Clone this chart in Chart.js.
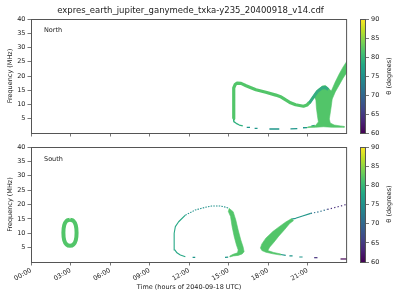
<!DOCTYPE html>
<html>
<head>
<meta charset="utf-8">
<script src="https://cdn.jsdelivr.net/npm/chart.js@4"></script>
<style>
  body { margin: 0; background: #fff; }
  #wrap { position: relative; width: 400px; height: 300px; font-family: 'DejaVu Sans', sans-serif; color: #222; }
  canvas { position: absolute; }
  .txt { position: absolute; white-space: nowrap; }
  .cbl { position: absolute; white-space: nowrap; font-size: 6.5px; transform: translate(-50%, -50%) rotate(-90deg); }
</style>
</head>
<body>
<div id="wrap">
  <canvas id="north" width="352" height="140" style="left:0;top:0"></canvas>
  <canvas id="south" width="352" height="160" style="left:0;top:140px"></canvas>
  <canvas id="cbN" width="45" height="140" style="left:355px;top:0"></canvas>
  <canvas id="cbS" width="45" height="160" style="left:355px;top:140px"></canvas>
  <div class="txt" style="left:31px;width:319px;top:5px;text-align:center;font-size:8.5px">expres_earth_jupiter_ganymede_txka-y235_20400918_v14.cdf</div>
  <div class="txt" style="left:44px;top:26px;font-size:6.5px">North</div>
  <div class="txt" style="left:44px;top:155px;font-size:6.5px">South</div>
  <div class="cbl" style="left:389px;top:76px">θ (degrees)</div>
  <div class="cbl" style="left:389px;top:204px">θ (degrees)</div>
</div>
<script>
// tick labels
const xTickLabels = ['00:00', '03:00', '06:00', '09:00', '12:00', '15:00', '18:00', '21:00'];
const yTickLabels = ['', '5', '10', '15', '20', '25', '30', '35', '40'];
const thetaTicks = [60, 65, 70, 75, 80, 85, 90];

// North hemisphere emission, [hour, MHz]
const northBand = [[15.38,5.0],[15.38,9.0],[15.39,13.0],[15.41,15.8],[15.50,17.0],[15.65,17.5],[15.95,17.4],[16.33,16.6],[16.70,15.9],[17.08,15.2],[17.83,14.3],[18.59,13.3],[19.00,12.6],[19.34,11.6],[19.70,10.6],[20.09,9.9],[20.69,9.4],[20.95,9.8],[21.14,10.8]];
const northBottom = [[15.37,5.0],[15.40,4.0],[15.58,3.4],[15.82,2.8],[16.08,2.5]];
const northDashes = [[16.38,2.0],[16.63,1.95],null,[16.98,1.65],[17.20,1.65],null,[18.10,1.4],[18.85,1.4],null,[19.70,1.45],[20.22,1.5],null,[20.65,1.85],[20.97,1.9],null,[21.29,2.4],[21.54,2.7]];
const northFan = [[21.14,10.5],[21.44,13.0],[21.75,15.1],[22.12,16.5],[22.35,16.7],[22.57,15.8],[22.80,14.7],[23.10,17.9],[23.40,20.7],[23.70,23.2],[24.0,25.3],[24.0,21.4],[23.70,19.3],[23.48,17.5],[23.10,14.4],[22.87,11.9],[22.80,9.5],[22.72,7.0],[22.65,4.9],[22.72,3.5],[23.02,2.8],[23.48,2.5],[23.78,2.3],[23.78,2.0],[22.87,2.0],[22.20,2.2],[21.60,2.0],[20.99,1.9],[20.99,2.1],[21.60,2.6],[21.82,3.9],[21.75,6.0],[21.67,8.8],[21.63,11.6],[21.52,12.6],[21.29,11.2],[21.14,10.0]];
const northHook = [[21.14,10.6],[21.44,12.6],[21.75,14.6],[22.12,15.9],[22.35,16.0],[22.57,15.3]];

// South hemisphere emission, [hour, MHz]
const southRing = [[2.96,14.75],[3.22,14.3],[3.40,12.8],[3.46,10.2],[3.40,7.6],[3.22,6.1],[2.96,5.65],[2.70,6.1],[2.52,7.6],[2.46,10.2],[2.52,12.8],[2.70,14.3],[2.96,14.75]];
const southArcLeft = [[11.72,1.84],[11.34,2.45],[11.08,3.2],[10.92,4.2],[10.87,7.0],[10.87,10.0],[10.96,12.3],[11.21,14.0],[11.72,16.3]];
const southArcTop = [[11.72,16.3],[12.47,18.1],[13.22,19.0],[13.72,19.5],[14.35,19.5],[14.73,19.1],[15.03,18.7]];
const southArcBand = [[15.03,18.7],[15.35,17.5],[15.55,14.6],[15.73,11.1],[15.93,7.65],[16.10,5.3],[16.18,3.6],[16.03,2.8],[15.73,2.3],[15.35,2.1],[15.10,1.74],[15.10,2.1],[15.35,2.7],[15.68,3.2],[15.73,4.2],[15.60,5.9],[15.43,8.8],[15.27,12.3],[15.15,15.8],[14.97,17.7]];
const southArcDashes = [[12.27,1.63],[12.47,1.63],null,[14.73,1.63],[14.97,1.7]];
const southV = [[19.79,15.1],[19.34,13.9],[18.85,12.3],[18.36,10.6],[17.83,8.3],[17.53,6.3],[17.42,4.9],[17.53,4.0],[17.83,3.4],[18.36,2.85],[18.96,2.4],[18.96,2.8],[18.43,3.3],[17.98,4.0],[18.13,5.2],[18.43,6.8],[18.81,9.0],[19.26,11.3],[19.64,13.4],[19.94,14.4]];
const southVTail = [[19.79,14.9],[20.09,15.2],[20.62,16.0],[21.24,16.9]];
const southVTailMid = [[21.24,16.9],[21.87,17.5],[22.50,18.3]];
const southVTailEnd = [[22.50,18.3],[23.12,19.0],[23.63,19.6],[24.0,20.1]];
const southLowerArm = [[18.96,2.6],[19.34,2.3],null,[19.62,2.1],[19.86,2.1],null,[20.37,1.74],[20.62,1.74]];
const southLowDots = [[21.50,1.5],[21.75,1.5]];
const southLowEnd = [[23.50,1.05],[24.0,1.05]];

const viridis = ['#440154','#482475','#414487','#355f8d','#2a788e','#21918c','#22a884','#44bf70','#7ad151','#bddf26','#fde725'];
const green = '#52c569';

Chart.defaults.font.family = "'DejaVu Sans', sans-serif";
Chart.defaults.font.size = 6.5;
Chart.defaults.color = '#222';

const toPts = arr => arr.map(p => p ? {x: p[0], y: p[1]} : {x: null, y: null});

function line(arr, color, width, dash, tension) {
	return {data: toPts(arr), showLine: true, borderColor: color, borderWidth: width,
		borderDash: dash || [], tension: tension || 0, pointRadius: 0, fill: false,
		borderJoinStyle: 'round', spanGaps: false};
}
function shape(arr, color) {
	return {data: toPts(arr), showLine: true, borderColor: color, borderWidth: 0.6,
		backgroundColor: color, fill: 'shape', pointRadius: 0, tension: 0};
}

// frame around the plot area
const boxPlugin = {
	id: 'box',
	afterDraw(chart) {
		const a = chart.chartArea, c = chart.ctx;
		c.save();
		c.strokeStyle = '#555';
		c.lineWidth = 1;
		c.strokeRect(a.left + 0.5, a.top + 0.5, a.right - a.left - 1, a.bottom - a.top);
		c.restore();
	}
};

function panel(id, datasets, bottom, padTop, xHeight) {
	const hideAt = v => (c => (c.tick && c.tick.value === v) ? 'rgba(0,0,0,0)' : '#555');
	new Chart(document.getElementById(id), {
		type: 'scatter',
		data: {datasets: datasets},
		options: {
			responsive: false,
			animation: false,
			events: [],
			layout: {padding: {top: padTop, right: 2, left: 0, bottom: 0}},
			plugins: {legend: {display: false}, tooltip: {enabled: false}},
			scales: {
				x: {
					type: 'linear', min: 0, max: 24,
					ticks: {
						stepSize: 3, autoSkip: false, minRotation: 30, maxRotation: 30, padding: 1,
						callback: (v, i) => bottom ? (xTickLabels[i] || '') : ''
					},
					grid: {drawOnChartArea: false, tickLength: 3.5, tickColor: hideAt(24), tickWidth: 0.8},
					border: {display: false},
					title: {display: bottom, text: 'Time (hours of 2040-09-18 UTC)', padding: {top: 0, bottom: 9}},
					afterFit: s => { s.height = xHeight; }
				},
				y: {
					min: 0, max: 40,
					ticks: {stepSize: 5, padding: 2, callback: (v, i) => yTickLabels[i]},
					grid: {drawOnChartArea: false, tickLength: 3.5, tickColor: hideAt(0), tickWidth: 0.8},
					border: {display: false},
					title: {display: true, text: 'Frequency (MHz)', padding: {top: 6, bottom: 0}},
					afterFit: s => { s.width = 31; }
				}
			}
		},
		plugins: [boxPlugin]
	});
}

function colorbar(id, padTop, padBottom) {
	new Chart(document.getElementById(id), {
		type: 'bar',
		data: {
			labels: ['θ'],
			datasets: [{
				data: [[thetaTicks[0], thetaTicks[thetaTicks.length - 1]]],
				barPercentage: 1, categoryPercentage: 1, borderWidth: 0,
				backgroundColor: c => {
					const a = c.chart.chartArea;
					if (!a) return viridis[5];
					const g = c.chart.ctx.createLinearGradient(0, a.bottom, 0, a.top);
					viridis.forEach((col, i) => g.addColorStop(i / (viridis.length - 1), col));
					return g;
				}
			}]
		},
		options: {
			responsive: false,
			animation: false,
			events: [],
			layout: {padding: {left: 5, top: padTop, bottom: padBottom, right: 0}},
			plugins: {legend: {display: false}, tooltip: {enabled: false}},
			scales: {
				x: {display: false},
				y: {
					position: 'right', min: 60, max: 90,
					ticks: {stepSize: 5, padding: 2},
					grid: {drawOnChartArea: false, tickLength: 3, tickColor: '#555', tickWidth: 0.8},
					border: {display: false},
					afterFit: s => { s.width = 34; }
				}
			}
		},
		plugins: [boxPlugin]
	});
}

panel('north', [
	line(northHook, '#34ac81', 3),
	shape(northFan, green),
	line(northBand, green, 3.2),
	line(northBottom, '#2fb17e', 1.3),
	line(northDashes, '#1f968b', 1.3)
], false, 19, 7);

panel('south', [
	line(southRing, green, 4, null, 0.4),
	line(southArcLeft, '#27a886', 1.1),
	line(southArcTop, '#21918c', 1.1, [1.5, 1.2]),
	shape(southArcBand, green),
	line(southArcDashes, '#1f968b', 1.2),
	shape(southV, green),
	line(southVTail, '#22978a', 1.2),
	line(southVTailMid, '#2c728e', 1.2, [1.3, 2]),
	line(southVTailEnd, '#472d7b', 1.2, [1.3, 2.2]),
	line(southLowerArm, '#1f968b', 1.2),
	line(southLowDots, '#46327e', 1.2),
	line(southLowEnd, '#440154', 1.2)
], true, 7, 38);

colorbar('cbN', 19, 7);
colorbar('cbS', 7, 38);
</script>
</body>
</html>
